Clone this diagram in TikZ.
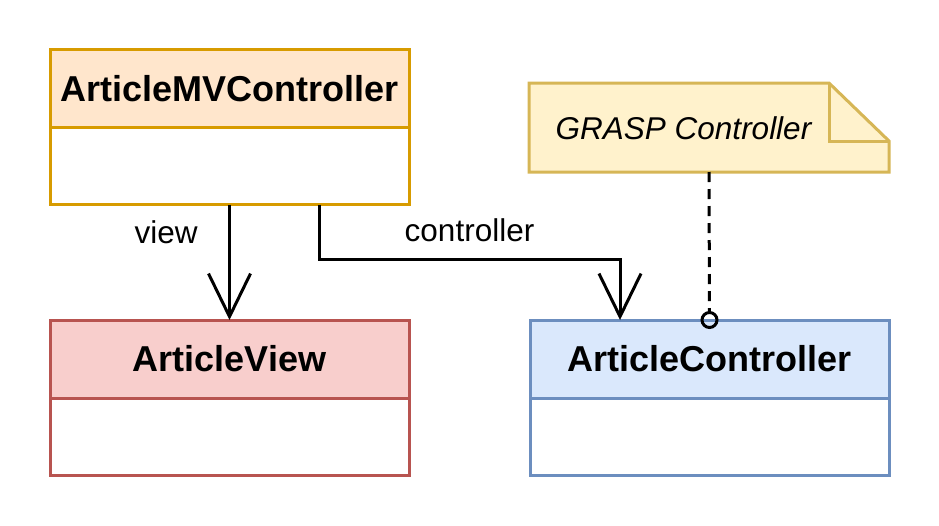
\documentclass[tikz,border=0pt]{standalone}
\usepackage{fontspec}
\setmainfont{Liberation Sans}
\usetikzlibrary{positioning,arrows.meta}
\definecolor{mvfill}{HTML}{FFE6CC}
\definecolor{mvline}{HTML}{D79B00}
\definecolor{viewfill}{HTML}{F8CECC}
\definecolor{viewline}{HTML}{B85450}
\definecolor{ctrlfill}{HTML}{DAE8FC}
\definecolor{ctrlline}{HTML}{6C8EBF}
\definecolor{notefill}{HTML}{FFF2CC}
\definecolor{noteline}{HTML}{D6B656}
\begin{document}
\begin{tikzpicture}[x=1pt,y=-1pt,
	head/.style={draw,line width=3pt,outer sep=0pt,inner sep=0pt,minimum width=359pt,minimum height=78pt,font=\fontsize{36}{40}\selectfont\bfseries},
	body/.style={draw,line width=3pt,outer sep=0pt,fill=white,minimum width=359pt,minimum height=77pt,below=0pt of #1},
	assoc/.style={line width=3pt,-{Straight Barb[length=43pt,width=42pt]}},
	lbl/.style={font=\fontsize{31.5}{36}\selectfont}]
	\useasboundingbox (0,0) rectangle (939,525);
	\node[head,draw=mvline,fill=mvfill] (mvc) at (229.5,88.5) {ArticleMVController};
	\node[body=mvc,draw=mvline] (mvcbody) {};
	\node[head,draw=viewline,fill=viewfill] (view) at (229.5,359) {ArticleView};
	\node[body=view,draw=viewline] (viewbody) {};
	\node[head,draw=ctrlline,fill=ctrlfill] (ctrl) at (709.5,359) {ArticleController};
	\node[body=ctrl,draw=ctrlline] (ctrlbody) {};
	% note with folded corner
	\node[minimum width=360pt,minimum height=89pt,outer sep=0pt] (note) at (709,127.5) {};
	\draw[line width=3pt,draw=noteline,fill=notefill] (note.north west) -- ([xshift=-60pt]note.north east) -- ([yshift=-58pt]note.north east) -- (note.south east) -- (note.south west) -- cycle;
	\draw[line width=3pt,draw=noteline] ([xshift=-60pt]note.north east) -- ([xshift=-60pt,yshift=-58pt]note.north east) -- ([yshift=-58pt]note.north east);
	\node[lbl,font=\fontsize{31.5}{36}\selectfont\itshape] (notetext) at (683.5,128) {GRASP Controller};
	\draw[assoc] (mvcbody.south) -- node[lbl,pos=0.24,left=27pt] {view} (view.north);
	\draw[assoc] ([xshift=89.5pt]mvcbody.south) -- ++(0,55) -| node[lbl,pos=0.25,above=13pt] {controller} ([xshift=-89.5pt]ctrl.north);
	\draw[line width=3pt,dash pattern=on 10pt off 7pt,-{Circle[open,length=18pt]},shorten >=-9pt] (note.south) -- (ctrl.north);
\end{tikzpicture}
\end{document}
